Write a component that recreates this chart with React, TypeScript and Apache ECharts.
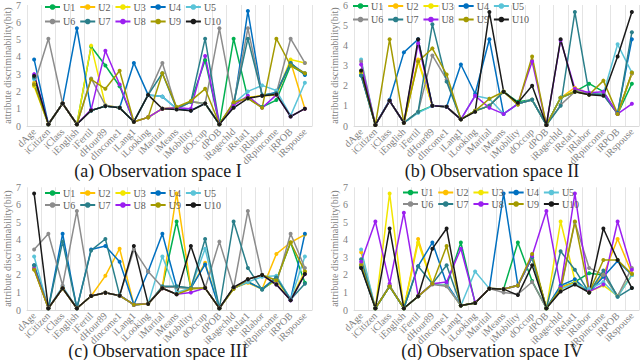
import React, { useEffect, useRef } from "react";
import * as echarts from "echarts";

const categories = ["dAge","iCitizen","iClass","iEnglish","iFertil","dHour89","dIncome1","iLang1","iLooking","iMarital","iMeans","iMobility","dOccup","dPOB","iRagechld","iRelat1","iRlabor","dRpincome","iRPOB","iRspouse"];
const seriesNames = ["U1","U2","U3","U4","U5","U6","U7","U8","U9","U10"];
const colors = ["#00b050","#ffc000","#f2e600","#0070c0","#5bc4d8","#8c8c8c","#2a7f8a","#9b1ff0","#a39a00","#1a1a1a"];
const titles = ["(a) Observation space I","(b) Observation space II","(c) Observation space III","(d) Observation space IV"];
const yMax = [7, 6, 7, 7];

const spaceI = [
  [2.8,0.1,1.3,0.1,4.6,3.5,2.3,0.25,0.5,1.0,1.05,1.4,3.8,0.1,5.05,1.6,1.1,1.5,3.5,3.0],
  [2.5,0.1,1.3,0.1,0.9,1.15,1.05,0.25,0.5,1.0,1.05,1.4,1.3,0.1,1.3,1.65,1.75,1.8,3.7,1.0],
  [2.3,0.1,1.3,0.1,4.65,1.2,1.05,0.25,0.5,1.0,1.05,1.4,1.3,0.1,1.3,1.65,1.75,1.8,3.85,3.65],
  [3.85,0.1,1.3,5.65,0.9,1.15,1.05,3.65,1.8,1.7,1.0,0.9,1.3,0.1,1.1,6.65,1.75,1.95,3.65,2.95],
  [2.7,0.1,1.3,0.1,0.9,1.15,1.05,0.25,1.8,1.7,1.0,1.4,1.3,0.1,1.3,2.0,2.35,2.05,0.6,2.5],
  [2.4,5.05,1.3,0.1,2.75,1.2,1.05,0.25,1.8,3.65,1.0,1.4,1.3,5.65,1.3,5.65,1.75,1.9,5.05,3.65],
  [2.8,0.1,1.3,0.1,0.9,1.15,1.05,0.25,1.8,3.05,1.0,1.4,5.05,0.1,1.3,5.05,1.8,1.9,3.6,3.05],
  [3.0,0.1,1.3,0.1,0.95,4.35,2.4,0.25,0.5,1.0,1.05,1.0,4.05,0.1,1.2,1.75,1.05,1.8,0.55,1.0],
  [2.4,0.1,1.3,0.1,2.7,2.15,3.2,0.25,0.5,3.05,1.1,1.45,2.15,0.1,1.38,1.6,1.05,5.05,3.5,3.05],
  [2.9,0.1,1.3,0.1,0.9,1.15,1.05,0.25,1.8,1.0,0.95,0.88,1.3,0.1,1.05,1.6,1.75,1.82,0.55,1.0],
];

const spaceII = [
  [2.6,0.05,1.25,0.16,0.7,1.0,0.95,0.33,0.75,1.0,1.7,1.2,1.3,0.05,1.4,1.7,2.1,1.7,0.6,2.1],
  [2.6,0.05,1.25,0.16,3.3,1.0,0.95,0.33,0.75,1.0,1.7,1.1,1.3,0.05,1.4,1.9,1.6,1.6,0.6,2.6],
  [2.6,0.05,1.25,0.16,3.2,1.0,0.95,0.33,0.75,1.0,1.7,1.1,1.3,0.05,1.4,1.75,1.6,1.6,0.6,2.6],
  [2.5,0.05,1.3,3.65,4.3,1.0,0.95,3.05,1.6,4.3,0.6,1.1,1.3,0.05,1.4,1.7,1.6,1.55,0.65,4.3],
  [3.3,0.05,1.25,0.16,0.65,1.0,0.95,0.33,1.5,1.35,0.6,1.1,1.3,0.05,1.4,1.7,1.6,1.6,4.05,2.65],
  [3.2,0.05,1.25,0.16,0.7,3.5,2.3,0.33,0.75,1.0,1.7,1.1,1.3,0.05,1.05,1.7,1.6,1.55,0.6,2.6],
  [2.5,0.05,1.25,0.16,0.7,5.05,2.2,0.33,0.75,1.0,1.7,1.1,1.3,0.05,1.0,5.65,1.6,1.55,0.6,4.65],
  [3.05,0.05,1.25,0.16,4.1,1.0,0.95,0.33,1.5,0.9,0.6,1.1,3.2,0.05,4.25,1.85,1.65,1.7,0.6,1.1],
  [2.7,0.05,4.3,0.16,3.2,3.85,2.55,0.33,0.75,1.35,1.7,1.05,3.45,0.05,1.4,1.7,1.55,2.25,0.6,2.65],
  [2.75,0.05,1.25,0.16,4.3,1.0,0.95,0.33,0.7,5.65,1.7,1.15,2.0,0.05,4.3,1.7,1.55,1.5,3.45,5.65],
];

const spaceIII = [
  [2.4,0.1,1.24,0.1,0.8,0.99,0.82,0.3,0.35,1.3,5.05,1.25,1.25,0.1,1.25,1.6,1.2,1.7,3.85,1.55],
  [2.35,0.1,1.24,0.1,0.8,1.95,3.5,0.3,0.35,1.3,6.65,1.25,2.7,0.1,1.25,1.55,1.2,3.2,3.85,4.3],
  [2.35,0.1,1.24,0.1,0.8,0.99,0.82,0.3,0.35,1.3,1.3,1.25,1.25,0.1,1.25,1.6,1.2,1.7,0.6,2.2],
  [2.55,0.1,4.35,0.1,3.45,3.65,2.75,0.3,2.2,4.35,1.3,1.25,2.6,0.1,1.25,1.6,1.2,1.9,0.6,4.35],
  [3.05,0.1,1.35,0.1,0.8,0.99,0.82,0.3,0.35,3.05,1.0,1.25,3.5,0.1,1.25,1.6,1.9,1.95,0.6,3.05],
  [3.45,4.35,1.4,5.65,0.8,0.99,0.82,3.45,2.2,1.3,1.3,1.25,1.25,3.9,1.25,5.65,2.0,1.5,4.35,2.4],
  [2.55,0.1,3.9,0.1,3.4,4.05,0.85,0.3,0.35,1.35,1.35,1.25,4.05,0.1,5.05,2.4,1.15,1.85,0.6,1.5],
  [2.35,0.1,1.24,0.1,0.8,0.99,0.82,0.3,0.35,1.24,0.9,1.0,1.25,0.1,1.25,1.75,2.0,1.45,0.55,2.05],
  [2.3,0.1,1.24,0.1,0.8,0.99,0.82,0.3,0.35,1.24,0.9,1.2,1.25,0.1,1.2,1.75,2.0,1.7,3.85,2.2],
  [6.65,0.1,1.24,0.1,0.8,0.99,0.82,3.65,0.35,1.24,0.9,3.65,1.25,0.1,1.3,1.75,2.0,1.45,0.55,2.05],
];

const spaceIV = [
  [2.5,0.1,1.35,0.1,0.78,1.5,1.4,3.85,0.4,1.22,1.2,3.85,1.65,0.1,1.3,1.6,2.1,2.0,0.8,2.0],
  [3.3,0.1,1.35,0.1,4.05,1.5,1.4,0.26,0.4,1.22,1.2,1.4,3.0,0.1,1.3,1.55,1.05,2.0,4.05,2.1],
  [2.6,0.1,6.65,0.1,3.85,1.5,1.4,0.26,0.4,1.22,1.2,1.4,3.0,0.1,5.05,1.7,1.05,1.4,0.8,2.0],
  [2.45,0.1,1.35,0.1,2.5,3.85,1.5,0.26,0.4,1.22,6.65,1.4,3.0,0.1,1.4,1.75,1.0,1.9,2.8,2.0],
  [3.45,0.1,1.35,0.1,0.78,1.5,1.4,0.26,2.2,1.22,1.2,1.4,3.0,0.1,1.2,1.5,1.2,1.6,0.75,2.0],
  [2.6,0.1,1.4,0.1,0.78,1.45,1.35,0.26,0.4,1.22,1.0,0.9,1.6,0.1,1.1,5.0,2.4,2.0,0.8,2.4],
  [2.9,0.1,1.35,0.1,2.5,1.5,2.55,0.26,0.4,1.22,1.2,1.4,3.0,0.1,3.35,2.3,1.0,2.25,0.75,1.25],
  [2.75,5.05,1.5,5.55,0.8,1.5,1.6,3.5,0.42,1.22,1.2,1.4,3.1,5.65,1.3,6.65,1.05,1.45,5.05,2.3],
  [2.55,0.1,1.35,0.1,0.78,1.5,3.65,0.26,0.4,1.22,1.2,1.4,3.2,0.1,1.2,5.05,1.0,2.85,2.85,2.05],
  [2.4,0.1,4.65,0.1,0.78,3.5,4.65,0.26,0.4,1.22,1.19,0.85,2.55,0.1,1.05,1.45,1.0,4.65,2.85,1.25],
];

const panels = [spaceI, spaceII, spaceIII, spaceIV];

const FONT = "'Liberation Serif', 'Times New Roman', serif";
const GRAY = "#7f7f7f";

const gridPos = [
  { left: 27, top: 3.3 },
  { left: 354, top: 3.3 },
  { left: 27, top: 187.3 },
  { left: 354, top: 187.3 },
];
const legendPos = [
  { left: 44, top1: 2, top2: 16.5 },
  { left: 352, top1: 1, top2: 14.5 },
  { left: 44, top1: 188, top2: 200 },
  { left: 402, top1: 187.5, top2: 199 },
];
const titlePos = [
  { x: 158, y: 162 },
  { x: 492, y: 162 },
  { x: 158, y: 342 },
  { x: 492, y: 342 },
];

export default function App() {
  const ref = useRef<HTMLDivElement>(null);
  useEffect(() => {
    document.body.style.margin = "0";
    if (!ref.current) return;
    const chart = echarts.init(ref.current, undefined, { renderer: "svg" });
    const grid = gridPos.map((g) => ({ left: g.left, top: g.top, width: 285, height: 122.7 }));
    const xAxis = panels.map((_, p) => ({
      type: "category",
      gridIndex: p,
      data: categories,
      boundaryGap: true,
      axisLine: { show: true, lineStyle: { color: "#d9d9d9" } },
      axisTick: { show: false },
      splitLine: { show: true, interval: 0, lineStyle: { color: "#e4e4e4", width: 1 } },
      axisLabel: { interval: 0, rotate: 45, fontSize: 10, color: GRAY, fontFamily: FONT, margin: 4 },
    }));
    const yAxis = panels.map((_, p) => ({
      type: "value",
      gridIndex: p,
      min: 0,
      max: yMax[p],
      interval: 1,
      name: "attribute discriminability(bit)",
      nameLocation: "middle",
      nameGap: 15,
      nameTextStyle: { fontSize: 10, color: GRAY, fontFamily: FONT },
      axisLine: { show: false },
      axisTick: { show: false },
      splitLine: { show: false },
      axisLabel: { fontSize: 10, color: GRAY, fontFamily: FONT, margin: 6 },
    }));
    const series: any[] = [];
    panels.forEach((panel, p) => {
      panel.forEach((vals, k) => {
        series.push({
          type: "line",
          name: seriesNames[k],
          xAxisIndex: p,
          yAxisIndex: p,
          data: vals,
          symbol: "circle",
          symbolSize: 4,
          color: colors[k],
          itemStyle: { color: colors[k] },
          lineStyle: { width: 1.5, color: colors[k] },
          emphasis: { disabled: true },
        });
      });
    });
    const legend: any[] = [];
    legendPos.forEach((lp) => {
      [seriesNames.slice(0, 5), seriesNames.slice(5)].forEach((row, r) => {
        legend.push({
          data: row,
          left: lp.left,
          top: r === 0 ? lp.top1 : lp.top2,
          orient: "horizontal",
          itemWidth: 15,
          itemHeight: 7,
          itemGap: 4,
          padding: 0,
          selectedMode: false,
          textStyle: { fontSize: 10, color: "#595959", fontFamily: FONT, padding: [0, 0, 0, -2] },
        });
      });
    });
    const graphic = titles.map((t, i) => ({
      type: "text",
      x: titlePos[i].x,
      y: titlePos[i].y,
      style: { text: t, fontSize: 18, fontFamily: FONT, fill: "#1a1a1a", textAlign: "center", textVerticalAlign: "top" },
    }));
    chart.setOption({
      animation: false,
      backgroundColor: "#ffffff",
      grid,
      xAxis,
      yAxis,
      legend,
      series,
      graphic,
    });
    return () => chart.dispose();
  }, []);
  return <div ref={ref} style={{ width: 640, height: 360 }} />;
}
